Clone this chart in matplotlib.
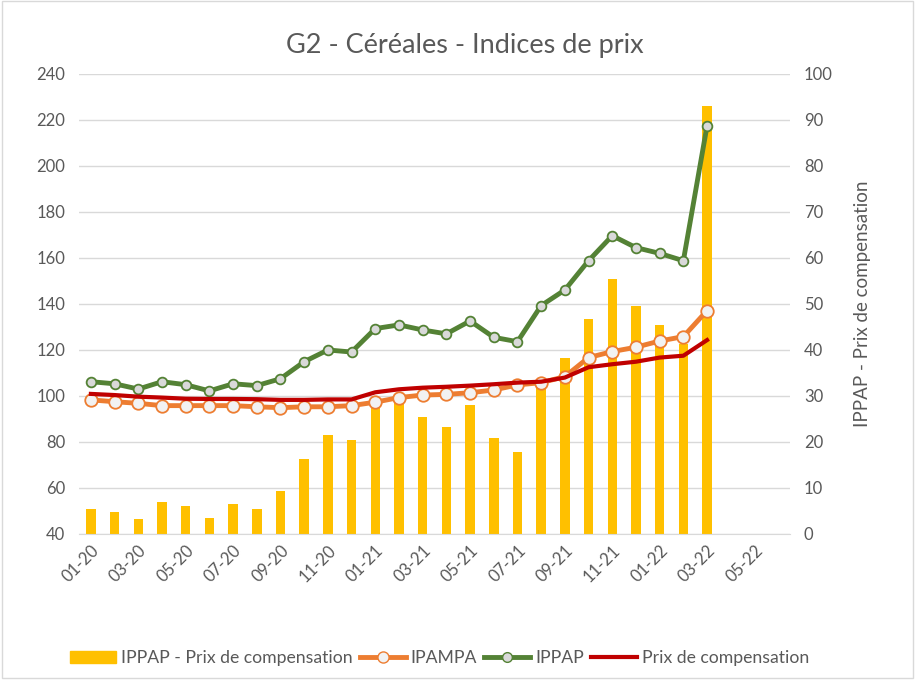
import numpy as np
import matplotlib.pyplot as plt
from matplotlib.patches import Rectangle
from matplotlib.lines import Line2D

plt.rcParams['font.family'] = ['Lato', 'DejaVu Sans']

# Months on the category axis (the axis runs to 06-22, data stops at 03-22)
months = ["01-20", "02-20", "03-20", "04-20", "05-20", "06-20", "07-20", "08-20",
          "09-20", "10-20", "11-20", "12-20", "01-21", "02-21", "03-21", "04-21",
          "05-21", "06-21", "07-21", "08-21", "09-21", "10-21", "11-21", "12-21",
          "01-22", "02-22", "03-22", "04-22", "05-22", "06-22"]

# IPPAP - Prix de compensation (right axis, bars)
ecart = [5.4, 4.7, 3.2, 7.0, 6.1, 3.4, 6.5, 5.4, 9.3, 16.2, 21.5, 20.5, 28.0,
         30.0, 25.4, 23.3, 28.0, 20.8, 17.8, 32.8, 38.2, 46.7, 55.4, 49.6,
         45.4, 41.3, 93.1]

# left axis series
ipampa = [98.3, 97.5, 96.8, 95.8, 95.8, 95.8, 95.8, 95.3, 94.9, 95.3, 95.3, 95.8,
          97.3, 99.3, 100.4, 100.7, 101.4, 102.6, 104.8, 105.8, 108.4, 116.7,
          119.3, 121.2, 123.9, 125.8, 137.1]
ippap = [106.2, 105.3, 103.0, 106.2, 104.9, 102.2, 105.3, 104.5, 107.5, 114.9,
         120.0, 119.1, 129.3, 130.9, 128.7, 127.0, 132.6, 125.5, 123.6, 139.3,
         146.1, 158.8, 169.7, 164.5, 162.0, 158.8, 217.5]
prix_comp = [100.9, 100.4, 99.7, 99.3, 98.8, 98.7, 98.7, 98.6, 98.3, 98.3, 98.5,
             98.5, 101.6, 102.9, 103.6, 104.0, 104.5, 105.1, 105.8, 106.2, 108.0,
             112.5, 113.8, 114.9, 116.7, 117.5, 124.3]

GREY = "#595959"
YELLOW = "#FFC000"
ORANGE = "#ED7D31"
GREEN = "#548235"
RED = "#C00000"

fig = plt.figure(figsize=(9.2, 6.83), dpi=100)
fig.patches.append(Rectangle((0.002, 0.008), 0.99, 0.99, transform=fig.transFigure,
                             fill=False, edgecolor="#D9D9D9", linewidth=1))

ax = fig.add_axes([0.0859, 0.2182, 0.7728, 0.6735])
x = np.arange(len(months))
n = len(ecart)

# bars on the base axes (right scale), lines on the twin (left scale)
ax.bar(x[:n], ecart, width=0.4, color=YELLOW, zorder=2)
ax.set_ylim(0, 100)
ax.set_yticks(np.arange(0, 101, 10))
ax.grid(axis="y", color="#D9D9D9", linewidth=1, zorder=0)
ax.set_axisbelow(True)
ax.set_xlim(-0.5, len(months) - 0.5)
ax.set_xticks(x[::2])
ax.set_xticklabels(months[::2], rotation=45, ha="right", rotation_mode="anchor")

ax2 = ax.twinx()
# twinx moves the base axis ticks to the left, so swap sides afterwards
ax.yaxis.tick_right()
ax.yaxis.set_label_position("right")
ax.set_ylabel("IPPAP - Prix de compensation", color=GREY, fontsize=13.5, labelpad=15)
ax2.yaxis.tick_left()
ax2.yaxis.set_label_position("left")
ax2.set_ylim(40, 240)
ax2.set_yticks(np.arange(40, 241, 20))

ax2.plot(x[:n], ippap, color=GREEN, linewidth=3.5, marker="o", markersize=7,
         markerfacecolor="#D9D9D9", markeredgecolor=GREEN, markeredgewidth=1.3, zorder=3)
ax2.plot(x[:n], ipampa, color=ORANGE, linewidth=3.5, marker="o", markersize=9,
         markerfacecolor="#F2F2F2", markeredgecolor=ORANGE, markeredgewidth=1.3, zorder=3)
ax2.plot(x[:n], prix_comp, color=RED, linewidth=3, zorder=4)

for a in (ax, ax2):
    for s in a.spines.values():
        s.set_visible(False)
    a.tick_params(length=0, labelsize=12, colors=GREY, pad=10)
ax.spines["bottom"].set_visible(True)
ax.spines["bottom"].set_color("#D9D9D9")
ax.tick_params(axis="x", pad=6)

fig.text(0.505, 0.933, "G2 - Céréales - Indices de prix", ha="center", va="center",
         fontsize=19.5, color=GREY)

handles = [
    Rectangle((0, 0), 1, 1, color=YELLOW),
    Line2D([], [], color=ORANGE, linewidth=3.5, marker="o", markersize=8,
           markerfacecolor="#F2F2F2", markeredgecolor=ORANGE),
    Line2D([], [], color=GREEN, linewidth=3.5, marker="o", markersize=7,
           markerfacecolor="#D9D9D9", markeredgecolor=GREEN),
    Line2D([], [], color=RED, linewidth=3),
]
labels = ["IPPAP - Prix de compensation", "IPAMPA", "IPPAP", "Prix de compensation"]
leg = fig.legend(handles, labels, loc="center", bbox_to_anchor=(0.478, 0.036), ncol=4,
                 frameon=False, fontsize=12.7, handlelength=2.6, handletextpad=0.3,
                 columnspacing=0.4)
for t in leg.get_texts():
    t.set_color(GREY)

fig.savefig("out.png", dpi=100)
